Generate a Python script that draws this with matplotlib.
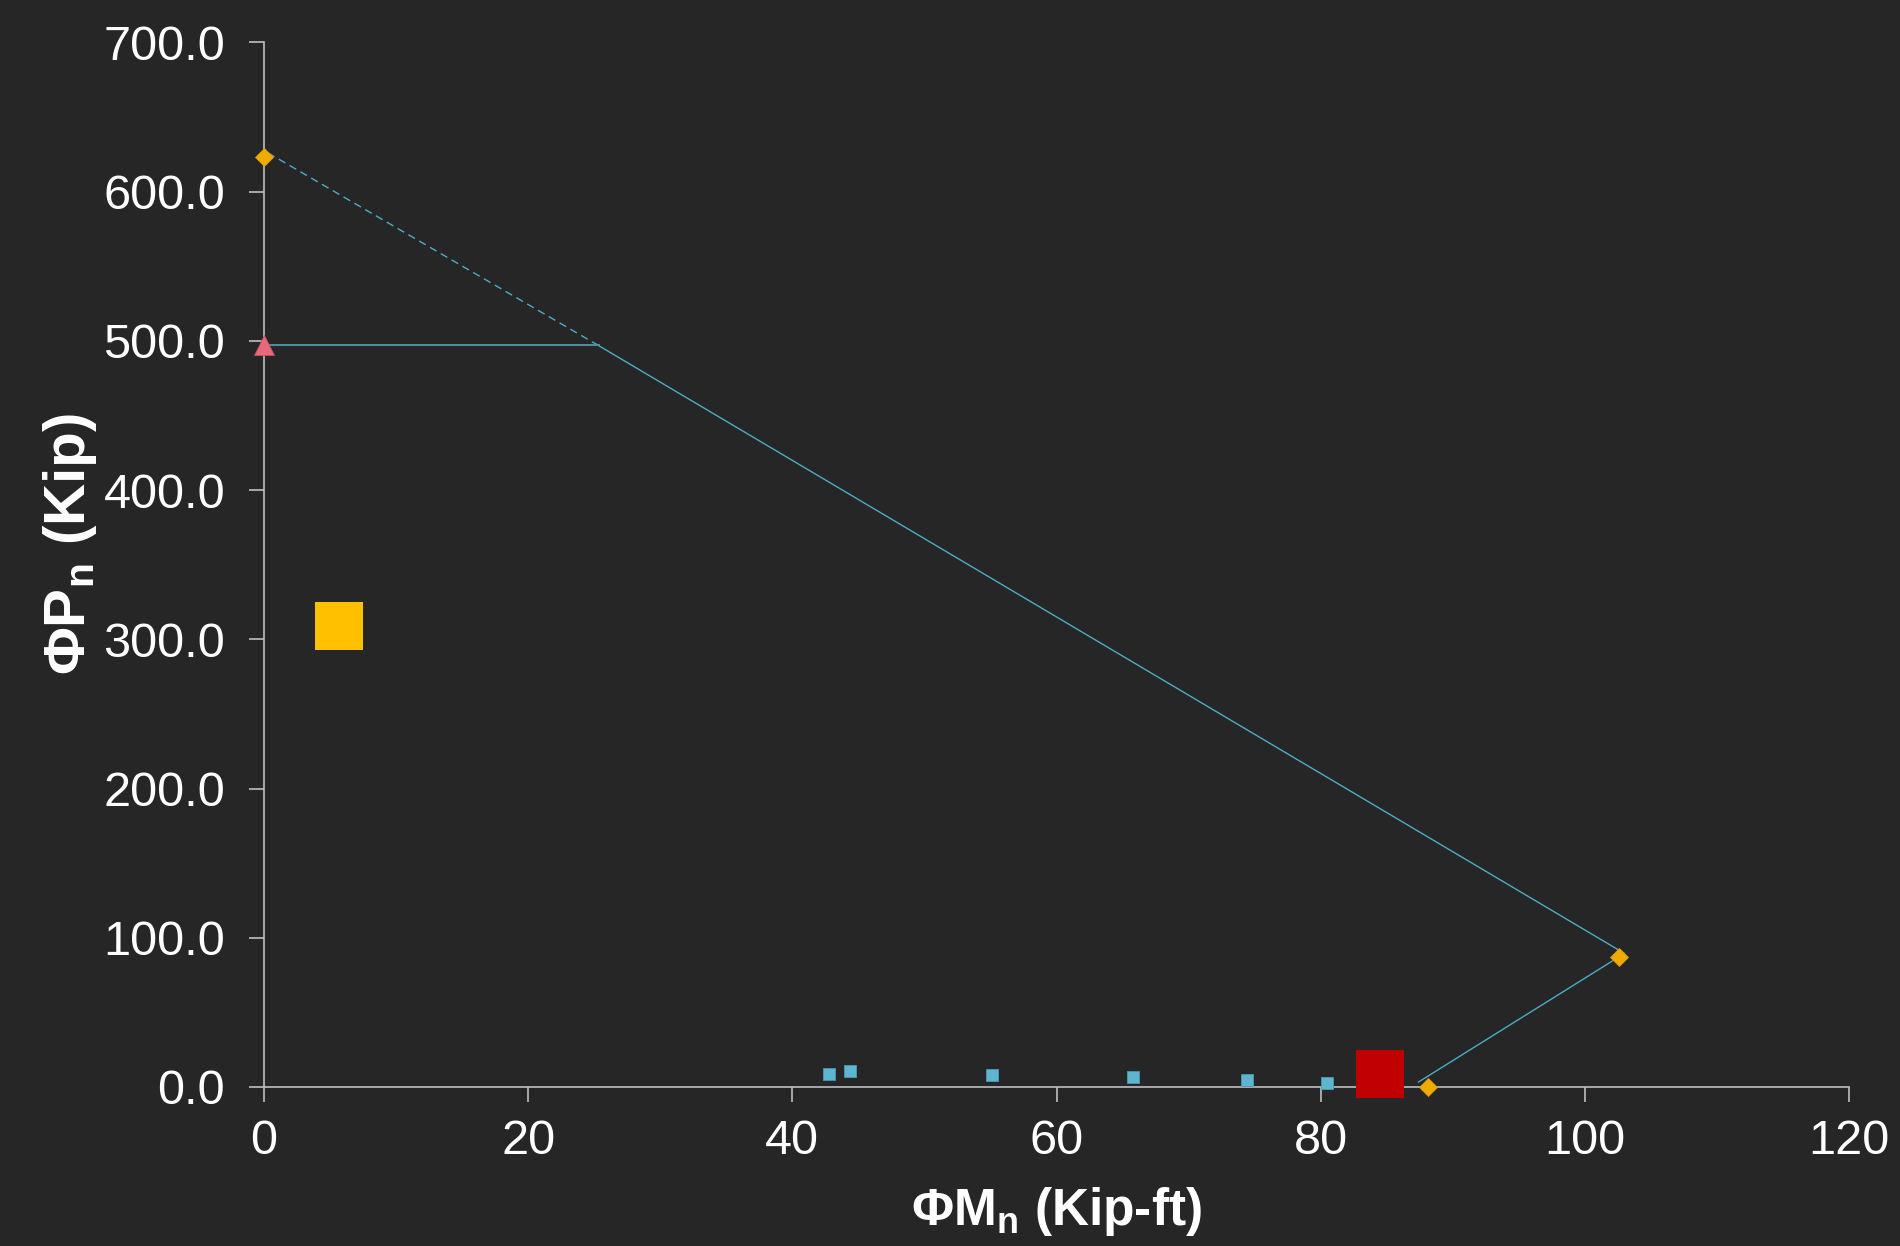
import numpy as np
import matplotlib
matplotlib.use("Agg")
import matplotlib.pyplot as plt
from matplotlib.ticker import FuncFormatter

plt.rcParams['font.family'] = ['Liberation Sans', 'DejaVu Sans']
plt.rcParams['mathtext.fontset'] = 'custom'
plt.rcParams['mathtext.rm'] = 'Liberation Sans'
plt.rcParams['mathtext.bf'] = 'Liberation Sans:bold'
plt.rcParams['mathtext.it'] = 'Liberation Sans:italic'

# capacity curve (interaction diagram)
dash_m = [0.3, 25.3]
dash_p = [626.0, 497.0]
curve_m = [25.3, 103.0, 87.4]
curve_p = [497.0, 89.5, 3.3]
cap_m = [0.0, 25.4]
cap_p = [497.0, 497.0]

# key points
key_m = [0.0, 102.6, 88.1]
key_p = [623.0, 87.0, 0.0]
max_m = [0.0]
max_p = [497.0]

# applied loads
load_m = [42.8, 44.4, 55.1, 65.8, 74.4, 80.5]
load_p = [9.0, 10.5, 8.0, 6.5, 5.0, 3.0]
yellow_m, yellow_p = [5.7], [309.0]
red_m, red_p = [84.5], [8.8]

bg = '#262626'
line_c = '#4BACC6'

fig = plt.figure(figsize=(19, 12.46), dpi=100)
fig.patch.set_facecolor(bg)
ax = fig.add_axes([264 / 1900, 1 - 1087 / 1246, (1849 - 264) / 1900, (1087 - 42.4) / 1246])
ax.set_facecolor(bg)

ax.plot(dash_m, dash_p, color=line_c, lw=1.0, dashes=(5.5, 3.5), zorder=3)
ax.plot(curve_m, curve_p, color=line_c, lw=1.0, zorder=3)
ax.plot(cap_m, cap_p, color='#4E90A5', lw=1.4, zorder=3)

ax.plot(load_m, load_p, ls='none', marker='s', ms=8.6, color='#5DB5D0',
        mec='#4A9AB5', mew=0.6, zorder=4, clip_on=False)
ax.plot(yellow_m, yellow_p, ls='none', marker='s', ms=34.5, color='#FFC000',
        mew=0, zorder=4, clip_on=False)
ax.plot(red_m, red_p, ls='none', marker='s', ms=34.5, color='#C00000',
        mew=0, zorder=5, clip_on=False)
ax.plot(key_m, key_p, ls='none', marker='D', ms=9.5, color='#F0AB00',
        mec='#D89A00', mew=0.6, zorder=6, clip_on=False)
ax.plot(max_m, max_p, ls='none', marker='^', ms=14, color='#E8687C',
        mec='#C85064', mew=0.6, zorder=6, clip_on=False)

ax.set_xlim(0, 120)
ax.set_ylim(0, 700)
ax.set_xticks(np.arange(0, 121, 20))
ax.set_yticks(np.arange(0, 701, 100))
ax.yaxis.set_major_formatter(FuncFormatter(lambda v, p: f"{v:.1f}"))

for s in ['top', 'right']:
    ax.spines[s].set_visible(False)
for s in ['left', 'bottom']:
    ax.spines[s].set_color('#BFBFBF')
    ax.spines[s].set_linewidth(1.2)

ax.tick_params(axis='both', colors='#BFBFBF', labelcolor='white', length=11,
               width=1.2, labelsize=35)
ax.tick_params(axis='y', pad=17)
ax.tick_params(axis='x', pad=12)

ax.set_xlabel(r'$\mathbf{\Phi M_n}$ (Kip-ft)', color='white', fontsize=37,
              fontweight='bold', labelpad=15)
ax.set_ylabel(r'$\mathbf{\Phi P_n}$ (Kip)', color='white', fontsize=42,
              fontweight='bold')
ax.yaxis.set_label_coords(-0.104, 0.52)

fig.savefig('out.png', dpi=100, facecolor=bg)
